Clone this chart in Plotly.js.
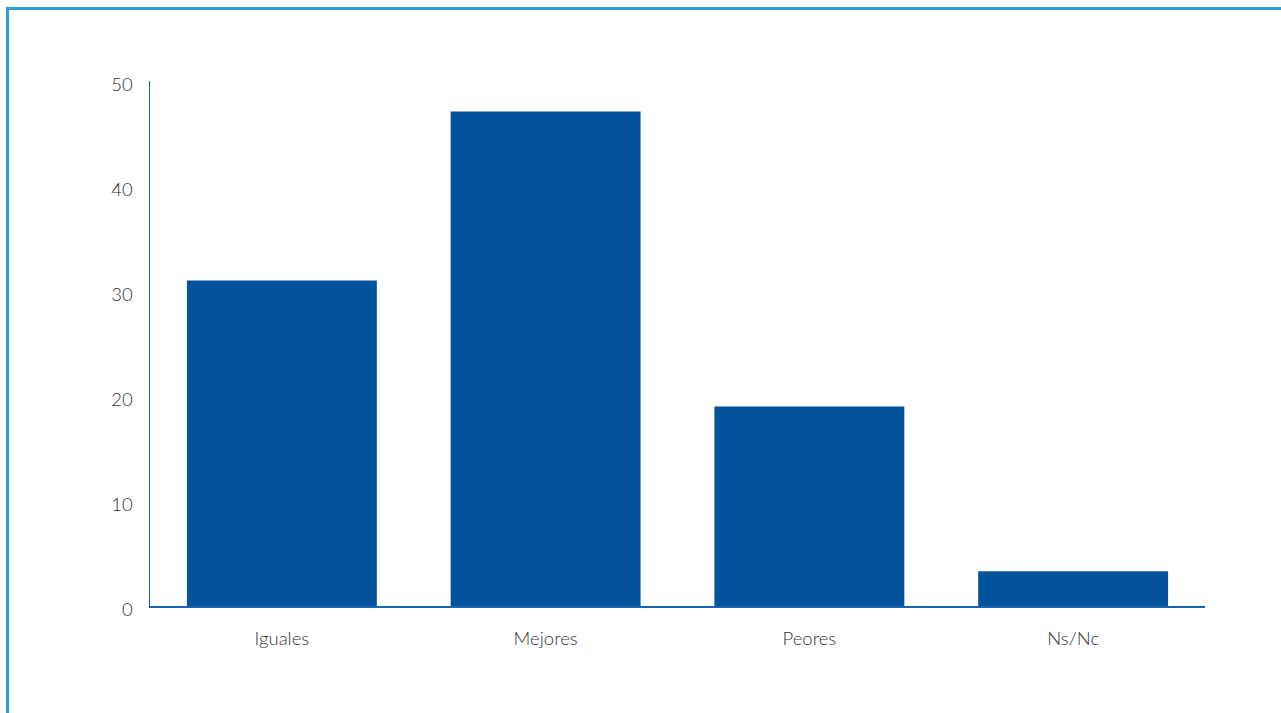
<!DOCTYPE html>
<html>
<head>
<meta charset="utf-8">
<script src="https://cdn.plot.ly/plotly-3.0.1.min.js"></script>
<style>
  html, body { margin: 0; padding: 0; background: #fff; width: 1281px; height: 713px; overflow: hidden; }
  #chart { position: absolute; left: 0; top: 0; width: 1281px; height: 713px; }
  #bt { position: absolute; left: 6px; top: 7px; width: 1275px; height: 3px; background: #2e9cd8; }
  #bl { position: absolute; left: 6px; top: 7px; width: 3px; height: 706px; background: #2e9cd8; }
</style>
</head>
<body>
<div id="chart"></div>
<div id="bt"></div>
<div id="bl"></div>
<script>
const categories = ["Iguales", "Mejores", "Peores", "Ns/Nc"];
const values = [31, 47.1, 19, 3.3];
const yTicks = [0, 10, 20, 30, 40, 50];

const font = { family: "Lato, 'Open Sans', sans-serif", size: 18.5, color: "#333333", weight: 300 };

Plotly.newPlot("chart", [{
  type: "bar",
  x: categories,
  y: values,
  marker: { color: "#03529c" },
  hoverinfo: "x+y"
}], {
  width: 1281, height: 713,
  margin: { l: 150, r: 76, t: 81, b: 107 },
  paper_bgcolor: "#fff", plot_bgcolor: "#fff",
  bargap: 0.28,
  showlegend: false,
  font: font,
  xaxis: {
    showline: true, linecolor: "#1565b3", linewidth: 1.5,
    showgrid: false, zeroline: false, ticks: "",
    tickfont: font, ticklabelstandoff: 15
  },
  yaxis: {
    range: [0, 50], tickvals: yTicks, ticktext: yTicks.map(String),
    showline: true, linecolor: "#1565b3", linewidth: 1.5,
    showgrid: false, zeroline: false, ticks: "",
    tickfont: font, ticklabelstandoff: 12, ticklabelshift: 4
  }
}, { displayModeBar: false, staticPlot: true });
</script>
</body>
</html>
